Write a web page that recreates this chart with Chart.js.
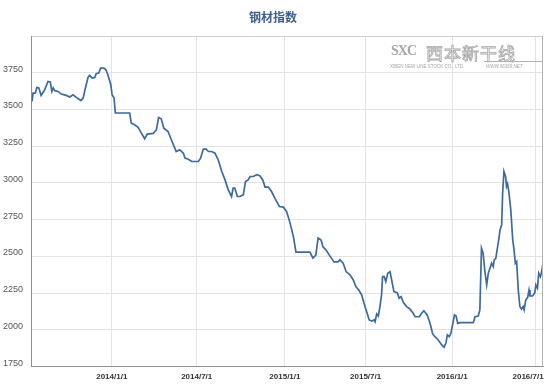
<!DOCTYPE html>
<html>
<head>
<meta charset="utf-8">
<script src="https://cdn.jsdelivr.net/npm/chart.js@4.4.0/dist/chart.umd.min.js"></script>
<style>
  html,body{margin:0;padding:0;background:#fff;}
  #wrap{position:relative;width:554px;height:391px;}
  canvas{display:block;}
  #logo{position:absolute;left:388px;top:40px;width:158px;height:32px;color:#b0b0b0;font-family:"Liberation Sans",Arial,sans-serif;pointer-events:none;}
  #logo .icon{position:absolute;left:3px;top:3px;font:bold 14px "Liberation Serif",serif;letter-spacing:-1px;color:#a8a8a8;}
  #logo .cn{position:absolute;left:38px;top:0px;font:17px "Noto Sans CJK SC",sans-serif;color:#fff;-webkit-text-stroke:0.8px #a5a5a5;letter-spacing:1px;}
  #logo .en{position:absolute;left:2px;top:24px;font-size:4.5px;white-space:nowrap;color:#a5a5a5;}
  #logo .url{position:absolute;left:98px;top:24px;font-size:4.5px;white-space:nowrap;color:#a5a5a5;font-style:italic;}
  #logo .rule{position:absolute;left:96px;top:21px;width:58px;height:1px;background:#b0b0b0;}
</style>
</head>
<body>
<div id="wrap">
<canvas id="c" width="554" height="391"></canvas>
<div id="logo">
  <span class="icon">SXC</span>
  <span class="cn">西本新干线</span>
  <span class="rule"></span>
  <span class="en">XIBEN NEW LINE STOCK CO., LTD.</span>
  <span class="url">WWW.96369.NET</span>
</div>
</div>
<script>
// ---- data (week index since mid-July 2013, index value) ----
const weekIndex = [
  0.1,0.4,1.1,1.6,2.2,2.9,4.0,5.0,5.7,6.2,6.6,7.1,8.1,9.1,10.6,11.7,12.7,13.7,15.1,15.8,
  16.5,17.3,17.8,18.6,19.4,19.8,20.6,21.2,22.2,22.8,23.4,24.3,24.7,25.3,25.7,30.1,30.6,31.6,32.7,33.7,
  34.7,35.5,37.3,38.3,39.0,39.8,40.6,41.9,42.9,44.4,45.5,46.6,47.1,48.1,49.2,51.2,51.9,52.7,53.5,54.3,
  55.3,56.3,57.3,58.4,59.4,60.4,61.4,61.9,62.4,63.2,64.0,65.0,65.7,66.5,67.1,68.1,69.1,70.1,71.0,71.7,
  72.7,73.7,74.7,76.1,77.3,78.3,79.4,80.4,81.2,85.5,86.4,87.3,88.0,88.9,89.5,90.4,91.6,92.9,94.1,94.7,
  95.7,96.6,97.8,98.8,99.6,100.6,101.4,102.1,102.9,103.7,104.5,105.2,105.5,106.0,106.5,107.0,107.5,107.8,108.3,108.8,
  109.4,110.1,110.6,111.3,112.3,112.9,113.5,114.2,115.2,116.2,117.2,117.8,119.1,119.8,120.5,121.5,122.4,123.2,123.9,124.9,
  126.0,126.7,127.3,127.7,128.3,128.8,129.4,129.9,130.4,130.9,131.6,135.7,136.2,137.2,137.7,138.2,138.7,139.2,139.8,140.3,
  140.8,141.3,141.8,142.1,142.6,143.0,143.5,143.9,144.4,144.7,145.1,145.6,145.9,146.2,146.6,147.2,147.8,148.2,148.6,149.0,
  149.5,150.0,150.5,151.0,151.3,151.8,152.4,152.8,153.1,153.9,154.6,154.9,155.4,155.8,156.3,156.6,157.1
];
const indexValues = [
  3555,3612,3612,3650,3646,3596,3634,3691,3687,3623,3646,3628,3623,3605,3596,3585,3600,3582,3561,3578,
  3646,3718,3732,3714,3718,3743,3748,3782,3782,3770,3736,3668,3600,3578,3476,3476,3407,3396,3378,3339,
  3301,3333,3337,3362,3446,3437,3373,3350,3294,3214,3226,3203,3169,3162,3146,3146,3169,3230,3232,3214,
  3214,3203,3158,3078,3021,2953,2908,2965,2965,2908,2908,2919,3010,3021,3044,3044,3056,3049,3021,2972,
  2972,2942,2897,2840,2836,2806,2727,2635,2530,2530,2489,2510,2626,2612,2565,2545,2504,2463,2463,2477,
  2454,2397,2375,2340,2295,2268,2238,2182,2125,2068,2061,2068,2056,2109,2095,2159,2238,2363,2363,2329,
  2386,2397,2340,2261,2254,2216,2227,2186,2159,2143,2114,2090,2090,2114,2131,2102,2045,1973,1954,1932,
  1898,1882,1913,1966,1954,1977,2045,2102,2095,2045,2050,2050,2090,2095,2136,2556,2522,2408,2306,2386,
  2420,2454,2431,2477,2488,2545,2613,2681,2715,2931,3078,3044,2976,2994,2942,2817,2613,2545,2454,2465,
  2272,2159,2141,2159,2136,2204,2222,2272,2231,2231,2254,2306,2284,2386,2363,2386,2454
];
const tickWeeks  = [24.6, 50.7, 77.8, 102.6, 129.2, 154.9];
const tickLabels = ['2014/1/1','2014/7/1','2015/1/1','2015/7/1','2016/1/1','2016/7/1'];
const yTicks = [1750, 2000, 2250, 2500, 2750, 3000, 3250, 3500, 3750];
const chartTitle = '钢材指数';

const points = weekIndex.map((w, i) => ({x: w, y: indexValues[i]}));

const framePlugin = {
  id: 'frame',
  afterDraw(chart) {
    const {ctx, chartArea: a} = chart;
    ctx.save();
    ctx.strokeStyle = '#b4b4b4';
    ctx.lineWidth = 1;
    ctx.beginPath();
    ctx.moveTo(a.right - 0.5, a.top);
    ctx.lineTo(a.right - 0.5, a.bottom);
    ctx.stroke();
    ctx.restore();
  }
};

new Chart(document.getElementById('c'), {
  type: 'line',
  data: {
    datasets: [{
      data: points,
      borderColor: '#3d6a9f',
      borderWidth: 1.7,
      pointRadius: 0,
      tension: 0,
      fill: false
    }]
  },
  options: {
    responsive: false,
    animation: false,
    layout: {padding: {left: 3, right: 11, top: 0, bottom: 0}},
    plugins: {
      legend: {display: false},
      tooltip: {enabled: false},
      title: {
        display: true,
        text: chartTitle,
        color: '#3f5f8c',
        font: {family: '"Noto Sans CJK SC", sans-serif', size: 12, weight: 'bold', lineHeight: 1.2},
        padding: {top: 10, bottom: 11.6}
      }
    },
    scales: {
      x: {
        type: 'linear',
        min: 0,
        max: 157.1,
        afterBuildTicks(scale) { scale.ticks = tickWeeks.map(v => ({value: v})); },
        afterFit(scale) { scale.height = 24.3; scale.paddingLeft = 0; scale.paddingRight = 0; },
        ticks: {
          autoSkip: false,
          maxRotation: 0,
          padding: 5,
          color: '#333',
          font: {family: '"Liberation Sans", Arial, sans-serif', size: 8, weight: 'bold'},
          // last label kept inside the plot edge, as in the reference
          callback: (v, i) => (i === tickLabels.length - 1 ? tickLabels[i] + '       ' : tickLabels[i])
        },
        grid: {color: '#e3e3e3', lineWidth: 1, drawTicks: false},
        border: {color: '#8e8e8e', width: 1}
      },
      y: {
        type: 'linear',
        min: 1750,
        max: 4000,
        afterBuildTicks(scale) { scale.ticks = yTicks.concat([4000]).map(v => ({value: v})); },
        afterFit(scale) { scale.width = 28.7; },
        ticks: {
          crossAlign: 'far',
          labelOffset: -3.5,
          color: '#555',
          font: {family: '"Liberation Sans", Arial, sans-serif', size: 9},
          callback: v => (yTicks.includes(v) ? String(v) : '')
        },
        grid: {color: (c) => c.tick && c.tick.value === 4000 ? '#d0d0d0' : '#e3e3e3', lineWidth: 1, drawTicks: false},
        border: {color: '#8e8e8e', width: 1}
      }
    }
  },
  plugins: [framePlugin]
});
</script>
</body>
</html>
